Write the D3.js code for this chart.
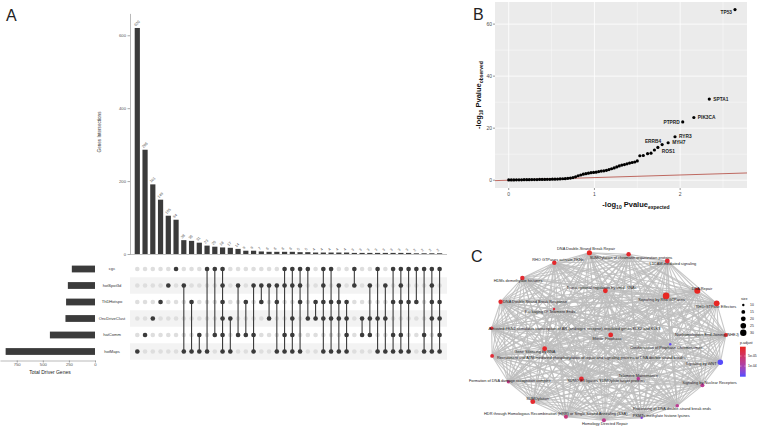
<!DOCTYPE html>
<html><head><meta charset="utf-8">
<script src="https://cdn.jsdelivr.net/npm/d3@7"></script>
<style>body{margin:0;background:#fff}svg{display:block}text{font-family:"Liberation Sans",Arial,sans-serif}</style>
</head><body><svg id="c" width="757" height="427"></svg>
<script>
// ---------------- Panel A data (UpSet) ----------------
const sets = ["cgc","hotSpot3d","ThDHotspo","OncDriveClust","hatComm","hotMaps"];
const setSizes = [222, 260, 277, 283, 432, 856];
const intersectionCounts = [620,286,191,149,105,94,38,36,31,23,20,18,17,14,9,9,7,6,6,6,6,5,5,4,4,4,4,4,3,3,3,3,3,3,3,3,2,2,2,2];
const intersectionMembers = [
 [5],[4],[3],[2],[1],[0],[1,5],[2,5],[4,5],[0,5],
 [0,4],[0,1,2,3,4,5],[3,5],[1,4],[2,4],[1,4,5],[1,2],[1,3],[1,2,5],[0,1,4,5],
 [0,1,3,4,5],[0,1,2,5],[0,3],[2,3],[0,1,2,3,5],[0,2,3,5],[1,2,3,5],[2,3,4,5],[0,1],[3,4],
 [1,3,4],[0,3,5],[1,3,5],[0,2,4,5],[0,1,2,4,5],[0,2,5],[0,2],[0,4,5],[0,1,2,3,5],[0,2,3,4,5]
];
const intersectionTicks = [0,200,400,600];
const setTicks = [0,250,500,750];

// ---------------- Panel B data (QQ plot) ----------------
const qqExpected = [0.00,0.03,0.06,0.09,0.12,0.15,0.18,0.21,0.24,0.27,0.30,0.33,0.36,0.39,0.42,0.45,0.48,0.51,0.54,0.57,0.60,0.63,0.66,0.69,0.72,0.75,0.78,0.81,0.84,0.87,0.90,0.93,0.96,0.99,1.02,1.05,1.08,1.11,1.14,1.17,1.20,1.23,1.26,1.29,1.32,1.35,1.38,1.41,1.44,1.47,1.50,1.53,1.57,1.62,1.66,1.70];
const qqObserved = [0.1,0.1,0.1,0.15,0.15,0.15,0.2,0.2,0.2,0.25,0.25,0.25,0.3,0.3,0.3,0.35,0.35,0.4,0.4,0.45,0.5,0.55,0.6,0.7,0.8,1.0,1.3,1.7,2.0,2.3,2.5,2.7,2.9,3.0,3.1,3.3,3.5,3.6,3.8,4.1,4.4,4.7,5.1,5.5,5.8,6.0,6.3,6.6,6.8,7.0,7.4,9.4,9.5,10.2,10.4,11.6];
const geneNames = ["TP53","SPTA1","PIK3CA","PTPRD","RYR3","MYH7","ERRB4","ROS1"];
const geneExpected = [2.64,2.34,2.16,2.03,1.94,1.86,1.79,1.74];
const geneObserved = [65.6,31.2,24.1,22.4,16.7,14.4,13.7,12.6];
const geneLabelSide = ["left","right","right","left","right","right","leftup","rightdown"];
const qqXTicks = [0,1,2];
const qqYTicks = [0,20,40,60];

// ---------------- Panel C data (enrichment map) ----------------
const pathways = [
 "DNA Double-Strand Break Repair",
 "SUMOylation of chromatin organization proteins",
 "L1CAM-mediated signaling",
 "RHO GTPases activate PKNs",
 "HDMs demethylate histones",
 "Transcriptional regulation by small RNAs",
 "DNA Repair",
 "Signaling by Rho GTPases",
 "RHO GTPase Effectors",
 "DNA Double Strand Break Response",
 "Packaging Of Telomere Ends",
 "Activated PKN1 stimulates transcription of AR (androgen receptor) regulated genes KLK2 and KLK3",
 "Nonhomologous End-Joining (NHEJ)",
 "Mitotic Prophase",
 "Condensation of Prophase Chromosomes",
 "Gene Silencing by RNA",
 "Recruitment and ATM-mediated phosphorylation of repair and signaling proteins at DNA double strand breaks",
 "Signaling by WNT",
 "Telomere Maintenance",
 "SUMO E3 ligases SUMOylate target proteins",
 "Formation of DNA damage recognition complex",
 "Signaling by Nuclear Receptors",
 "SUMOylation",
 "Processing of DNA double-strand break ends",
 "HDR through Homologous Recombination (HRR) or Single Strand Annealing (SSA)",
 "Homology Directed Repair",
 "PKMTs methylate histone lysines"
];
const pathwaySize = [22,18,20,18,18,20,28,32,26,18,10,14,16,20,10,20,15,24,14,20,13,16,20,14,16,16,10];
const pathwayPadj = [6e-6,1.2e-5,1.5e-5,1.0e-5,1.4e-5,8e-6,4e-6,5e-6,6e-6,1.2e-5,2e-5,1.5e-5,1.2e-5,1.0e-5,1.45e-4,1.0e-5,1.8e-5,1.5e-4,8e-5,1.5e-5,7e-5,8e-5,1.2e-5,8e-5,6.5e-5,7.5e-5,1.3e-4];
// layout coordinates (0-100 units) from the network layout
const layoutX = [41.9,58.1,74.1,27.4,14.2,48.5,86.5,73.6,94.5,5.2,27.3,1.5,98.3,50.7,75.3,23.4,1.7,96.0,62.1,38.6,8.4,88.6,18.5,78.2,32.2,47.9,63.5];
const layoutY = [1.6,2.5,6.4,7.4,16.3,23.7,23.7,26.7,31.0,30.1,34.3,45.5,49.4,49.4,54.8,57.4,61.6,65.3,74.8,75.0,76.6,78.7,88.2,90.5,96.9,99.0,97.5];
const labelX = [40.5,59.1,76.4,28.9,12.4,46.9,88.4,71.7,94.2,19.4,25.6,35.7,90.5,49.2,73.6,19.4,42.6,88.0,62.1,48.8,9.0,91.5,20.5,76.0,28.0,48.3,71.6];
const labelY = [-0.8,4.3,8.1,5.4,17.7,21.9,22.3,28.9,33.0,30.1,35.9,45.5,49.4,51.5,56.8,59.3,62.5,66.3,73.1,76.0,76.0,77.2,86.6,92.4,95.1,100.8,96.3];
const sizeLegend = [10,15,20,25,30];
const padjLegend = [5e-5,1e-4];

// ---------------- Drawing ----------------
const svg = d3.select("#c");
svg.append("rect").attr("width",757).attr("height",427).attr("fill","#fff");
const dark = "#3b3b3b";

// ===== Panel A =====
const A = svg.append("g");
const xI = d3.scalePoint().domain(d3.range(intersectionCounts.length)).range([137.3, 439.6]);
const yI = d3.scaleLinear().domain([0,660]).range([254,13.4]);
const yRow = d3.scalePoint().domain(sets).range([269, 351.5]);
const xS = d3.scaleLinear().domain([0,910]).range([95,0]);

A.append("line").attr("x1",130).attr("x2",447).attr("y1",254.5).attr("y2",254.5).attr("stroke","#9a9a9a").attr("stroke-width",0.6);
A.selectAll("rect.ib").data(intersectionCounts).join("rect")
 .attr("x",(d,i)=>xI(i)-2.6).attr("width",5.2)
 .attr("y",d=>yI(d)).attr("height",d=>yI(0)-yI(d)).attr("fill",dark);
A.selectAll("text.il").data(intersectionCounts).join("text")
 .attr("transform",(d,i)=>`translate(${xI(i)-1.5},${yI(d)-1.5}) rotate(-45)`)
 .attr("font-size",3.8).attr("fill","#555").text(d=>d);
const ay = A.append("g").attr("transform","translate(130,0)")
 .call(d3.axisLeft(yI).tickValues(intersectionTicks).tickSize(2.5).tickSizeOuter(0).tickPadding(1.5));
ay.select(".domain").attr("stroke","#8a8a8a").attr("stroke-width",0.6);
ay.selectAll(".tick line").attr("stroke","#555").attr("stroke-width",0.5);
ay.selectAll(".tick text").attr("font-size",4.2).attr("fill","#555").attr("font-family","Liberation Sans, Arial, sans-serif");
A.append("text").attr("transform","translate(101,132) rotate(-90)").attr("text-anchor","middle")
 .attr("font-size",4.6).attr("fill","#333").text("Genes Intersections");

A.selectAll("rect.stripe").data(sets.filter((s,i)=>i%2===1)).join("rect")
 .attr("x",130).attr("width",317).attr("y",d=>yRow(d)-8.25).attr("height",16.5).attr("fill","#f3f3f3");
const grid = [];
intersectionCounts.forEach((c,i)=>sets.forEach(s=>grid.push({i,s})));
A.selectAll("circle.e").data(grid).join("circle")
 .attr("cx",d=>xI(d.i)).attr("cy",d=>yRow(d.s)).attr("r",2.3).attr("fill","#dedede");
A.selectAll("line.conn").data(intersectionMembers.map((m,i)=>({m,i})).filter(d=>d.m.length>1)).join("line")
 .attr("x1",d=>xI(d.i)).attr("x2",d=>xI(d.i))
 .attr("y1",d=>yRow(sets[d3.min(d.m)])).attr("y2",d=>yRow(sets[d3.max(d.m)]))
 .attr("stroke",dark).attr("stroke-width",1.1);
const filled = [];
intersectionMembers.forEach((m,i)=>m.forEach(k=>filled.push({i,s:sets[k]})));
A.selectAll("circle.f").data(filled).join("circle")
 .attr("cx",d=>xI(d.i)).attr("cy",d=>yRow(d.s)).attr("r",2.3).attr("fill",dark);
A.selectAll("text.sl").data(sets).join("text")
 .attr("x",112).attr("y",d=>yRow(d)).attr("dy","0.35em").attr("text-anchor","middle")
 .attr("font-size",4.1).attr("fill","#333").text(d=>d);
A.selectAll("rect.sb").data(setSizes).join("rect")
 .attr("x",d=>xS(d)).attr("width",d=>xS(0)-xS(d))
 .attr("y",(d,i)=>yRow(sets[i])-3.4).attr("height",6.8).attr("fill",dark);
const ax = A.append("g").attr("transform","translate(0,360.5)")
 .call(d3.axisBottom(xS).tickValues(setTicks).tickSize(2).tickSizeOuter(0).tickPadding(1));
ax.select(".domain").attr("stroke","#8a8a8a").attr("stroke-width",0.6);
ax.selectAll(".tick line").attr("stroke","#555").attr("stroke-width",0.5);
ax.selectAll(".tick text").attr("font-size",4.2).attr("fill","#555").attr("font-family","Liberation Sans, Arial, sans-serif");
A.append("text").attr("x",50).attr("y",373.5).attr("text-anchor","middle").attr("font-size",5).attr("fill","#222").text("Total Driver Genes");

svg.append("text").attr("x",6).attr("y",21).attr("font-size",16).attr("fill","#222").text("A");
svg.append("text").attr("x",473).attr("y",20).attr("font-size",16).attr("fill","#222").text("B");
svg.append("text").attr("x",471).attr("y",262).attr("font-size",16).attr("fill","#222").text("C");

// ===== Panel B =====
const B = svg.append("g");
const xq = d3.scaleLinear().domain([-0.16,2.78]).range([495,747]);
const yq = d3.scaleLinear().domain([-3,68.5]).range([188,2]);
B.append("rect").attr("x",495).attr("y",2).attr("width",252).attr("height",186).attr("fill","#ebebeb");
const xMinor = [0.5,1.5,2.5], yMinor = [10,30,50];
B.selectAll("line.xm").data(xMinor).join("line").attr("x1",d=>xq(d)).attr("x2",d=>xq(d)).attr("y1",2).attr("y2",188).attr("stroke","#fff").attr("stroke-width",0.4);
B.selectAll("line.ym").data(yMinor).join("line").attr("y1",d=>yq(d)).attr("y2",d=>yq(d)).attr("x1",495).attr("x2",747).attr("stroke","#fff").attr("stroke-width",0.4);
B.selectAll("line.xg").data(qqXTicks).join("line").attr("x1",d=>xq(d)).attr("x2",d=>xq(d)).attr("y1",2).attr("y2",188).attr("stroke","#fff").attr("stroke-width",0.8);
B.selectAll("line.yg").data(qqYTicks).join("line").attr("y1",d=>yq(d)).attr("y2",d=>yq(d)).attr("x1",495).attr("x2",747).attr("stroke","#fff").attr("stroke-width",0.8);
const refDom = xq.domain();
B.append("line").attr("x1",xq(refDom[0])).attr("y1",yq(refDom[0])).attr("x2",xq(refDom[1])).attr("y2",yq(refDom[1]))
 .attr("stroke","#b2473e").attr("stroke-width",0.8);
B.selectAll("circle.q").data(qqExpected).join("circle")
 .attr("cx",d=>xq(d)).attr("cy",(d,i)=>yq(qqObserved[i])).attr("r",1.6).attr("fill","#000");
B.selectAll("circle.g").data(geneExpected).join("circle")
 .attr("cx",d=>xq(d)).attr("cy",(d,i)=>yq(geneObserved[i])).attr("r",1.6).attr("fill","#000");
B.selectAll("text.gl").data(geneNames).join("text")
 .attr("x",(d,i)=>{const x=xq(geneExpected[i]);const s=geneLabelSide[i];return s==="left"?x-3:s==="leftup"?x-1:x+4;})
 .attr("y",(d,i)=>{const y=yq(geneObserved[i]);const s=geneLabelSide[i];return s==="leftup"?y-3.5:s==="rightdown"?y+3.5:(d==="TP53"?y+3:y);})
 .attr("dy","0.35em")
 .attr("text-anchor",(d,i)=>geneLabelSide[i].startsWith("left")?"end":"start")
 .attr("font-family","Liberation Serif, Times New Roman, serif").attr("font-weight","bold")
 .attr("font-size",4.8).attr("fill","#222").text(d=>d);
B.selectAll("line.xt").data(qqXTicks).join("line").attr("x1",d=>xq(d)).attr("x2",d=>xq(d)).attr("y1",188).attr("y2",190).attr("stroke","#333").attr("stroke-width",0.5);
B.selectAll("text.xt").data(qqXTicks).join("text").attr("x",d=>xq(d)).attr("y",195.5).attr("text-anchor","middle").attr("font-size",5).attr("fill","#4d4d4d").text(d=>d);
B.selectAll("line.yt").data(qqYTicks).join("line").attr("y1",d=>yq(d)).attr("y2",d=>yq(d)).attr("x1",493).attr("x2",495).attr("stroke","#333").attr("stroke-width",0.5);
B.selectAll("text.yt").data(qqYTicks).join("text").attr("x",492).attr("y",d=>yq(d)).attr("dy","0.35em").attr("text-anchor","end").attr("font-size",5).attr("fill","#4d4d4d").text(d=>d);
const xt = B.append("text").attr("x",636).attr("y",207).attr("text-anchor","middle").attr("font-weight","bold").attr("font-size",7.5).attr("fill","#111");
xt.append("tspan").text("-log");
xt.append("tspan").attr("font-size",5).attr("dy",2).text("10");
xt.append("tspan").attr("dy",-2).text(" Pvalue");
xt.append("tspan").attr("font-size",5).attr("dy",2).text("expected");
const yt = B.append("text").attr("transform","translate(481,95) rotate(-90)").attr("text-anchor","middle").attr("font-weight","bold").attr("font-size",7.5).attr("fill","#111");
yt.append("tspan").text("-log");
yt.append("tspan").attr("font-size",5).attr("dy",2).text("10");
yt.append("tspan").attr("dy",-2).text(" Pvalue");
yt.append("tspan").attr("font-size",5).attr("dy",2).text("observed");

// ===== Panel C =====
const C = svg.append("g");
const nx = d3.scaleLinear().domain([0,100]).range([488,730]);
const ny = d3.scaleLinear().domain([0,100]).range([250,422]);
const padjExtent = [3.5e-6,1.53e-4];
const col = d3.scaleLinear().domain(padjExtent).range(["#e8261f","#4d4dff"]).interpolate(d3.interpolateLab);
const area = d3.scaleLinear().domain([9,32]).range([1,11]);
const rad = s=>Math.sqrt(area(s));
const nodes = pathways.map((p,i)=>({p,i,x:nx(layoutX[i]),y:ny(layoutY[i])}));
const edges = [];
for(let a=0;a<nodes.length;a++)for(let b=a+1;b<nodes.length;b++)edges.push([nodes[a],nodes[b]]);
C.selectAll("line.e").data(edges).join("line")
 .attr("x1",d=>d[0].x).attr("y1",d=>d[0].y).attr("x2",d=>d[1].x).attr("y2",d=>d[1].y)
 .attr("stroke","#bdbdbd").attr("stroke-width",1.1).attr("stroke-opacity",0.85);
C.selectAll("circle.n").data(nodes).join("circle")
 .attr("cx",d=>d.x).attr("cy",d=>d.y).attr("r",d=>rad(pathwaySize[d.i])).attr("fill",d=>col(pathwayPadj[d.i]));
C.selectAll("text.nl").data(nodes).join("text")
 .attr("x",d=>nx(labelX[d.i])).attr("y",d=>ny(labelY[d.i])).attr("dy","0.35em").attr("text-anchor","middle")
 .attr("font-size",3.9).attr("fill","#222").text(d=>d.p);
const L = svg.append("g");
L.append("text").attr("x",741).attr("y",300).attr("font-size",3.6).attr("fill","#222").text("size");
const ls = d3.scalePoint().domain(sizeLegend).range([305,332.7]);
L.selectAll("circle").data(sizeLegend).join("circle").attr("cx",743.3).attr("cy",d=>ls(d)).attr("r",d=>rad(d)).attr("fill","#000");
L.selectAll("text.sv").data(sizeLegend).join("text").attr("x",750).attr("y",d=>ls(d)).attr("dy","0.35em").attr("font-size",3.4).attr("fill","#222").text(d=>d);
L.append("text").attr("x",740).attr("y",344).attr("font-size",3.6).attr("fill","#222").text("p.adjust");
const defs = svg.append("defs");
const gr = defs.append("linearGradient").attr("id","pg").attr("x1",0).attr("x2",0).attr("y1",0).attr("y2",1);
d3.range(0,1.01,0.1).forEach(t=>gr.append("stop").attr("offset",t).attr("stop-color",col(padjExtent[0]+t*(padjExtent[1]-padjExtent[0]))));
const cb = d3.scaleLinear().domain(padjExtent).range([346.7,376.7]);
L.append("rect").attr("x",740).attr("y",346.7).attr("width",5.7).attr("height",30).attr("fill","url(#pg)");
L.selectAll("line.cbt").data(padjLegend).join("line").attr("x1",740).attr("x2",741.5).attr("y1",d=>cb(d)).attr("y2",d=>cb(d)).attr("stroke","#fff").attr("stroke-width",0.4);
L.selectAll("line.cbt2").data(padjLegend).join("line").attr("x1",744.2).attr("x2",745.7).attr("y1",d=>cb(d)).attr("y2",d=>cb(d)).attr("stroke","#fff").attr("stroke-width",0.4);
L.selectAll("text.cbl").data(padjLegend).join("text").attr("x",748).attr("y",d=>cb(d)).attr("dy","0.35em").attr("font-size",3.4).attr("fill","#222").text(d=>d3.format(".0e")(d).replace("e-5","e-05").replace("e-4","e-04"));
</script></body></html>
